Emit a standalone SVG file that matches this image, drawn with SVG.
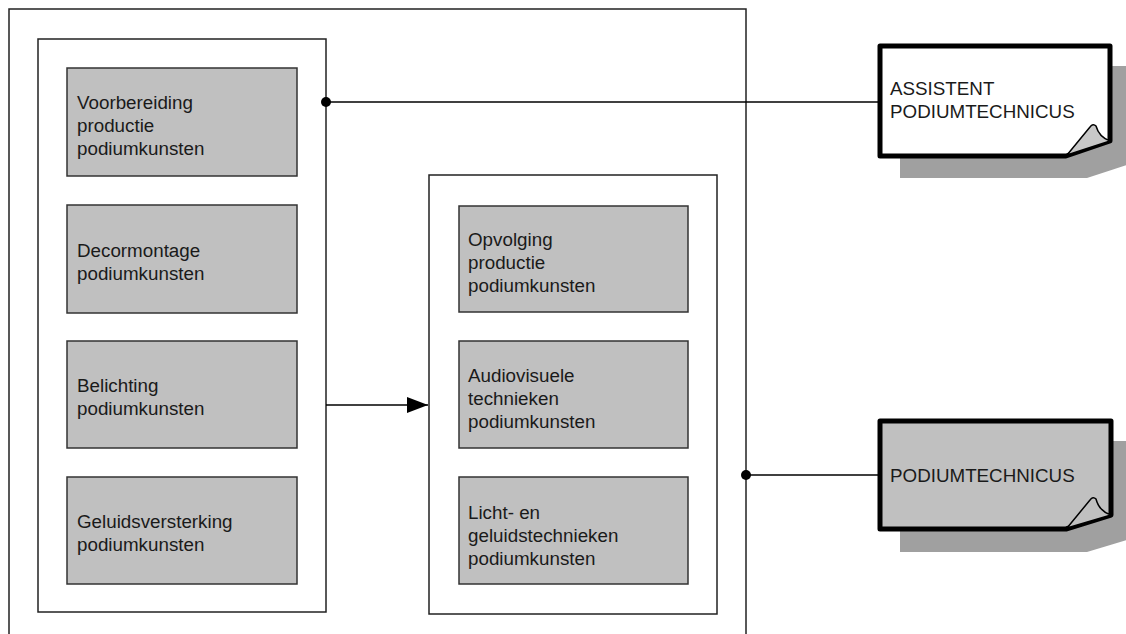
<svg xmlns="http://www.w3.org/2000/svg" width="1126" height="634" viewBox="0 0 1126 634">
<defs>
<style>
.frame{fill:#fff;stroke:#222;stroke-width:1.5}
.unit{fill:#c0c0c0;stroke:#333;stroke-width:1.5}
.t{font-family:"Liberation Sans",Arial,sans-serif;font-size:18.8px;fill:#1a1a1a}
.role{stroke:#000;stroke-width:5;stroke-linejoin:round}
.shadow{fill:#a0a0a0}
.curl{stroke:#000;stroke-width:1.5;stroke-linejoin:round}
.conn{stroke:#000;stroke-width:1.5;fill:none}
</style>
<marker id="arr" markerWidth="21" markerHeight="16" refX="21" refY="8" orient="auto" markerUnits="userSpaceOnUse">
<path d="M0,0 L21,8 L0,16 Z" fill="#000"/>
</marker>
</defs>
<rect width="1126" height="634" fill="#fff"/>
<g id="outer"><rect class="frame" x="9" y="9" width="737" height="650"/></g>
<g id="left-container"><rect class="frame" x="38" y="39" width="288" height="573"/></g>
<g id="right-container"><rect class="frame" x="429" y="175" width="288" height="439"/></g>
<g id="voorbereiding"><rect class="unit" x="67" y="68" width="230" height="108"/>
<text class="t" x="77" y="109">Voorbereiding</text><text class="t" x="77" y="132">productie</text><text class="t" x="77" y="155">podiumkunsten</text></g>
<g id="decormontage"><rect class="unit" x="67" y="205" width="230" height="108"/>
<text class="t" x="77" y="257">Decormontage</text><text class="t" x="77" y="280">podiumkunsten</text></g>
<g id="belichting"><rect class="unit" x="67" y="341" width="230" height="107"/>
<text class="t" x="77" y="392">Belichting</text><text class="t" x="77" y="415">podiumkunsten</text></g>
<g id="geluidsversterking"><rect class="unit" x="67" y="477" width="230" height="107"/>
<text class="t" x="77" y="528">Geluidsversterking</text><text class="t" x="77" y="551">podiumkunsten</text></g>
<g id="opvolging"><rect class="unit" x="459" y="206" width="229" height="106"/>
<text class="t" x="468" y="246">Opvolging</text><text class="t" x="468" y="269">productie</text><text class="t" x="468" y="292">podiumkunsten</text></g>
<g id="audiovisuele"><rect class="unit" x="459" y="341" width="229" height="107"/>
<text class="t" x="468" y="382">Audiovisuele</text><text class="t" x="468" y="405">technieken</text><text class="t" x="468" y="428">podiumkunsten</text></g>
<g id="licht-geluid"><rect class="unit" x="459" y="477" width="229" height="107"/>
<text class="t" x="468" y="519">Licht- en</text><text class="t" x="468" y="542">geluidstechnieken</text><text class="t" x="468" y="565">podiumkunsten</text></g>
<g id="assistent-podiumtechnicus">
<path class="shadow" d="M900,66 H1130 V164 L1087,178 H900 Z"/>
<path class="role" fill="#fff" d="M880,46 H1110 V141 L1066,156 H880 Z"/>
<path class="curl" fill="#c8c8c8" d="M1067,155 L1090,127 Q1093,123 1096,126 Q1099,137 1110,141 Z"/>
<text class="t" x="890" y="95">ASSISTENT</text><text class="t" x="890" y="118">PODIUMTECHNICUS</text>
</g>
<g id="podiumtechnicus">
<path class="shadow" d="M900,441 H1130 V539 L1087,552 H900 Z"/>
<path class="role" fill="#c0c0c0" d="M880,421 H1111 V515 L1066,529 H880 Z"/>
<path class="curl" fill="#c0c0c0" d="M1067,528 L1090,500 Q1093,496 1096,499 Q1099,511 1111,515 Z"/>
<text class="t" x="890" y="482">PODIUMTECHNICUS</text>
</g>
<g id="connectors">
<line class="conn" x1="326" y1="102" x2="880" y2="102"/>
<circle cx="326" cy="102" r="5" fill="#000"/>
<line class="conn" x1="746" y1="475" x2="880" y2="475"/>
<circle cx="746" cy="475" r="5" fill="#000"/>
<line class="conn" x1="326" y1="405" x2="428" y2="405" marker-end="url(#arr)"/>
</g>
</svg>
